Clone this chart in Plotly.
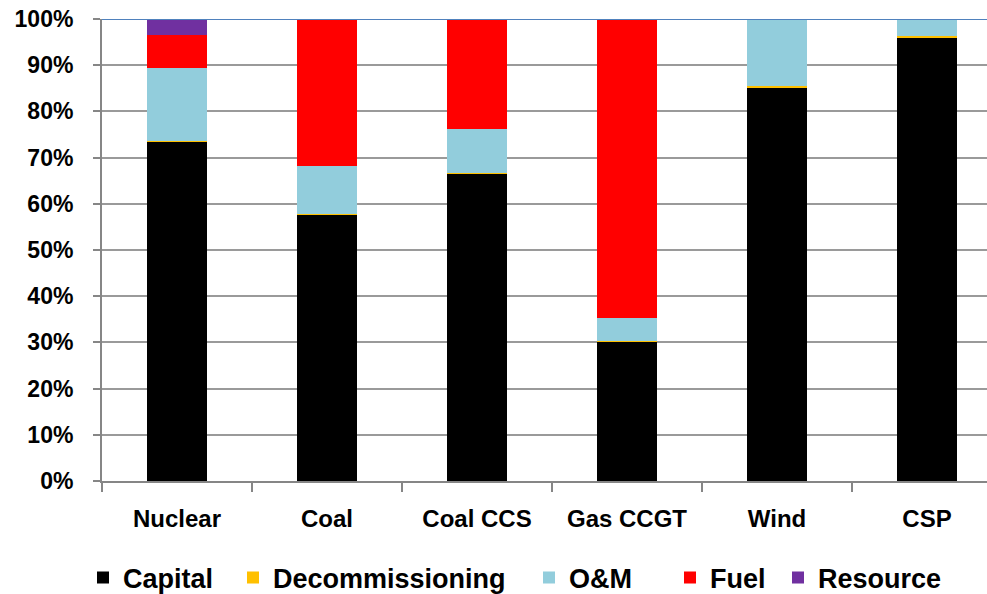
import plotly.graph_objects as go

categories = ["Nuclear", "Coal", "Coal CCS", "Gas CCGT", "Wind", "CSP"]
capital = [0.734, 0.576, 0.665, 0.301, 0.851, 0.961]
decommissioning = [0.003, 0.003, 0.002, 0.001, 0.005, 0.003]
om = [0.158, 0.103, 0.095, 0.051, 0.144, 0.036]
fuel = [0.070, 0.318, 0.238, 0.647, 0.0, 0.0]
resource = [0.035, 0.0, 0.0, 0.0, 0.0, 0.0]
y_ticks = [0, 0.1, 0.2, 0.3, 0.4, 0.5, 0.6, 0.7, 0.8, 0.9, 1.0]

series = [
    ("Capital", capital, "#000000"),
    ("Decommissioning", decommissioning, "#FFC000"),
    ("O&M", om, "#92CDDC"),
    ("Fuel", fuel, "#FF0000"),
    ("Resource", resource, "#7030A0"),
]
# left edge (px) of each legend entry's colour square
legend_left_px = [95, 245, 541, 682, 790]

FONT = "Liberation Sans, Arial, sans-serif"
W, H = 987, 594

fig = go.Figure()
legend_layouts = {}
for i, (name, vals, color) in enumerate(series):
    lname = "legend" if i == 0 else f"legend{i + 1}"
    fig.add_trace(go.Bar(x=categories, y=vals, name=name, legend=lname,
                         marker=dict(color=color, line=dict(width=0))))
    legend_layouts[lname] = dict(
        orientation="h", xref="container", x=(legend_left_px[i] - 12) / W, xanchor="left",
        yref="container", y=(H - 578) / H, yanchor="middle",
        font=dict(family=FONT, size=27, color="black", weight="bold"),
        itemclick=False, itemdoubleclick=False, bgcolor="rgba(0,0,0,0)",
    )

fig.update_layout(
    barmode="stack",
    bargap=0.6,
    width=W, height=H,
    margin=dict(l=102, r=0, t=19, b=113, autoexpand=False),
    plot_bgcolor="white", paper_bgcolor="white",
    font=dict(family=FONT, size=21, color="black"),
    showlegend=True,
    **legend_layouts,
)
fig.update_yaxes(
    range=[0, 1], tickvals=y_ticks, tickformat=".0%", automargin=False,
    showgrid=True, gridcolor="#9A9A9A", gridwidth=2,
    showline=True, linecolor="#868686", linewidth=2,
    ticks="outside", ticklen=7, tickcolor="#868686", tickwidth=2,
    tickfont=dict(family=FONT, size=23, color="black", weight="bold"),
    ticklabelstandoff=15, zeroline=False,
)
fig.update_xaxes(
    range=[-0.5, 5.4], showgrid=False, automargin=False,
    showline=True, linecolor="#868686", linewidth=2,
    ticks="outside", tickson="boundaries", ticklen=9, tickcolor="#868686", tickwidth=2,
    tickfont=dict(family=FONT, size=24, color="black", weight="bold"),
    ticklabelstandoff=15,
)
fig.add_shape(type="line", xref="paper", yref="y", x0=0, x1=1, y0=1, y1=1,
              line=dict(color="#4F81BD", width=2))

fig.write_html("out.html", config={"displayModeBar": False},
               post_script="document.body.style.margin='0';document.body.style.overflow='hidden';")
